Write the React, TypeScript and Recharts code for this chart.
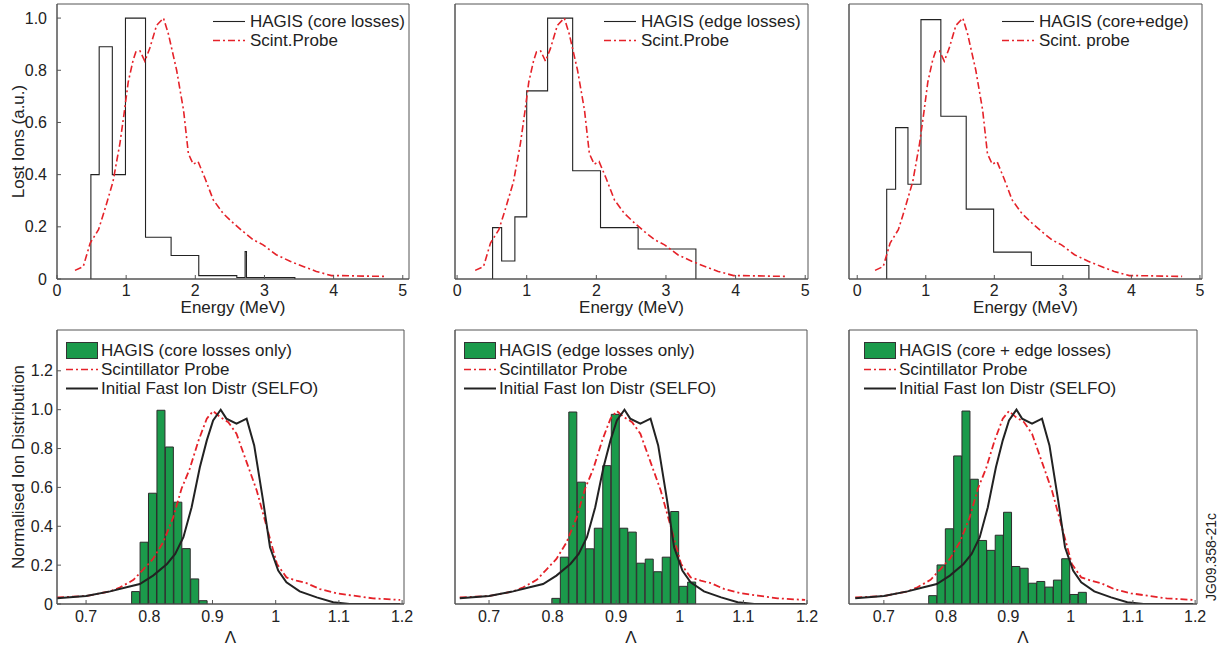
import { Bar, ComposedChart, Legend, Line, ReferenceArea, XAxis, YAxis } from "recharts";

const FONT = '"Liberation Sans", Arial, Helvetica, sans-serif';
const RED = "#e52229";
const GREEN = "#1b9a4b";
const FRAME = "#555";
const INK = "#222";
const DASH = "7 3 2 3";

// ---- top row: energy spectra of lost ions ----
const energyTicks = [0, 1, 2, 3, 4, 5];
const lossTicks = [0, 0.2, 0.4, 0.6, 0.8, 1.0];

const probeEnergy = [0.26, 0.38, 0.48, 0.6, 0.69, 0.81, 0.91, 0.97, 1.03, 1.1, 1.14, 1.2, 1.27, 1.34, 1.44, 1.54, 1.61, 1.73, 1.83, 1.9, 1.97, 2.04, 2.14, 2.26, 2.4, 2.55, 2.69, 2.84, 2.98, 3.17, 3.37, 3.56, 3.75, 3.97, 4.09, 4.47, 4.74];
const probeSignal = [0.033, 0.048, 0.138, 0.189, 0.265, 0.373, 0.52, 0.634, 0.755, 0.838, 0.87, 0.874, 0.835, 0.883, 0.972, 1.0, 0.94, 0.8, 0.647, 0.48, 0.44, 0.45, 0.386, 0.303, 0.252, 0.214, 0.182, 0.15, 0.131, 0.093, 0.068, 0.048, 0.029, 0.013, 0.013, 0.011, 0.01];

// HAGIS histograms: bin edges and the level of each bin
const coreEdges = [0.49, 0.61, 0.8, 0.99, 1.28, 1.65, 2.05, 2.6, 2.72, 2.74, 3.44];
const coreLevels = [0.4, 0.89, 0.4, 1.0, 0.16, 0.09, 0.013, 0.006, 0.105, 0.006];
const edgeEdges = [0.51, 0.64, 0.83, 1.0, 1.3, 1.66, 2.06, 2.6, 3.43];
const edgeLevels = [0.197, 0.069, 0.238, 0.721, 1.0, 0.415, 0.197, 0.115];
const bothEdges = [0.43, 0.56, 0.74, 0.93, 1.22, 1.59, 1.99, 2.54, 3.38];
const bothLevels = [0.344, 0.58, 0.363, 0.994, 0.624, 0.268, 0.103, 0.052];

// ---- bottom row: distributions in Lambda ----
const lambdaTicks = [0.7, 0.8, 0.9, 1.0, 1.1, 1.2];
const distTicks = [0, 0.2, 0.4, 0.6, 0.8, 1.0, 1.2];

const lambdaBins = [0.7787, 0.7921, 0.8054, 0.8188, 0.8321, 0.8455, 0.8588, 0.8722, 0.8855, 0.8989, 0.9122, 0.9256, 0.9389, 0.9523, 0.9656, 0.979, 0.9923, 1.0057, 1.019];
const hagisCore = [0.064, 0.318, 0.57, 0.997, 0.808, 0.524, 0.285, 0.129, 0.017, 0, 0, 0, 0, 0, 0, 0, 0, 0, 0];
const hagisEdge = [0, 0, 0.029, 0.241, 0.988, 0.627, 0.284, 0.39, 0.712, 0.976, 0.39, 0.37, 0.21, 0.231, 0.166, 0.241, 0.476, 0.091, 0.113];
const hagisBoth = [0.043, 0.201, 0.387, 0.762, 0.993, 0.642, 0.327, 0.276, 0.354, 0.472, 0.193, 0.184, 0.107, 0.116, 0.087, 0.123, 0.233, 0.049, 0.06];

const probeLambda = [0.654, 0.7, 0.738, 0.754, 0.775, 0.791, 0.806, 0.822, 0.838, 0.851, 0.864, 0.878, 0.891, 0.901, 0.912, 0.925, 0.938, 0.954, 0.97, 0.986, 1.002, 1.017, 1.033, 1.049, 1.07, 1.097, 1.123, 1.154, 1.197];
const probeDist = [0.034, 0.041, 0.065, 0.086, 0.124, 0.18, 0.232, 0.318, 0.447, 0.593, 0.696, 0.842, 0.954, 0.993, 0.962, 0.936, 0.876, 0.73, 0.584, 0.395, 0.206, 0.137, 0.12, 0.107, 0.077, 0.055, 0.043, 0.029, 0.021];
const selfoLambda = [0.654, 0.7, 0.738, 0.764, 0.785, 0.806, 0.828, 0.841, 0.854, 0.867, 0.88, 0.891, 0.901, 0.913, 0.922, 0.938, 0.954, 0.966, 0.98, 0.991, 1.004, 1.017, 1.038, 1.065, 1.091, 1.117, 1.197];
const selfoDist = [0.029, 0.041, 0.065, 0.086, 0.103, 0.146, 0.206, 0.258, 0.344, 0.498, 0.704, 0.842, 0.945, 1.0, 0.954, 0.928, 0.954, 0.816, 0.533, 0.292, 0.172, 0.112, 0.065, 0.034, 0.009, 0, 0];

function stepPoints(edges: number[], levels: number[]) {
  const pts = [{ x: edges[0], y: 0 }];
  levels.forEach((l, i) => pts.push({ x: edges[i], y: l }));
  pts.push({ x: edges[edges.length - 1], y: 0 });
  return pts;
}

const zip = (xs: number[], ys: number[]) => xs.map((x, i) => ({ x, y: ys[i] }));

type Item = { kind: "rect" | "solid" | "dash"; text: string };

function LegendBox({ items, gap, thick }: { items: Item[]; gap: number; thick: number }) {
  return (
    <div style={{ fontFamily: FONT, fontSize: 17, color: INK, lineHeight: "19px" }}>
      {items.map((it) => (
        <div key={it.text} style={{ display: "flex", alignItems: "center", height: 19 }}>
          <svg width={32} height={19} style={{ flexShrink: 0 }}>
            {it.kind === "rect" && <rect x={0.5} y={1.5} width={31} height={16} fill={GREEN} stroke="#333" />}
            {it.kind === "solid" && <line x1={0} x2={32} y1={9.5} y2={9.5} stroke={INK} strokeWidth={thick} />}
            {it.kind === "dash" && <line x1={0} x2={32} y1={9.5} y2={9.5} stroke={RED} strokeWidth={1.6} strokeDasharray={DASH} />}
          </svg>
          <span style={{ marginLeft: gap, whiteSpace: "nowrap" }}>{it.text}</span>
        </div>
      ))}
    </div>
  );
}

const tickStyle = { fontSize: 16, fill: INK, fontFamily: FONT };
const oneDec = (v: number) => (v === 0 ? "0" : v.toFixed(1));

type EnergyProps = {
  left: number; width: number; yWidth: number; right: number; xDomain: [number, number];
  edges: number[]; levels: number[]; hagis: string; probe: string; legendLeft: number; showY: boolean;
};

const LOSS_MAX = 1.054;
const DIST_MAX = 1.41;

function EnergyPanel(p: EnergyProps) {
  return (
    <div style={{ position: "absolute", left: p.left, top: 0 }}>
      <ComposedChart width={p.width} height={320} margin={{ top: 4, right: p.right, bottom: 0, left: 0 }}>
        <XAxis dataKey="x" type="number" domain={p.xDomain} allowDataOverflow ticks={energyTicks} interval={0}
          height={41} tickSize={-4} tickMargin={10} tick={tickStyle} stroke={FRAME}
          label={{ value: "Energy (MeV)", position: "insideBottom", offset: 7, fontSize: 17, fill: INK, fontFamily: FONT }} />
        <YAxis type="number" domain={[0, LOSS_MAX]} allowDataOverflow ticks={lossTicks} interval={0} width={p.yWidth}
          tickSize={-4} tickMargin={14} tick={p.showY ? tickStyle : false} tickFormatter={oneDec} stroke={FRAME}
          label={p.showY ? { value: "Lost Ions (a.u.)", angle: -90, position: "insideLeft", offset: 18, style: { textAnchor: "middle" }, fontSize: 17, fill: INK, fontFamily: FONT } : undefined} />
        <ReferenceArea x1={p.xDomain[0]} x2={p.xDomain[1]} y1={0} y2={LOSS_MAX} fill="none" stroke={FRAME} strokeWidth={1} ifOverflow="visible" />
        <Line data={stepPoints(p.edges, p.levels)} dataKey="y" type="stepAfter" stroke={INK} strokeWidth={1.1}
          dot={false} activeDot={false} isAnimationActive={false} />
        <Line data={zip(probeEnergy, probeSignal)} dataKey="y" type="linear" stroke={RED} strokeWidth={1.6}
          strokeDasharray={DASH} dot={false} activeDot={false} isAnimationActive={false} />
        <Legend verticalAlign="middle" align="center" wrapperStyle={{ left: p.legendLeft, top: 12, width: "auto" }}
          content={() => <LegendBox gap={5} thick={1.1} items={[{ kind: "solid", text: p.hagis }, { kind: "dash", text: p.probe }]} />} />
      </ComposedChart>
    </div>
  );
}

type LambdaProps = {
  left: number; width: number; yWidth: number; right: number; xDomain: [number, number];
  hist: number[]; hagis: string; legendLeft: number; showY: boolean;
};

function LambdaPanel(p: LambdaProps) {
  const bins = lambdaBins.map((x, i) => ({ x, h: p.hist[i] }));
  return (
    <div style={{ position: "absolute", left: p.left, top: 320 }}>
      <ComposedChart width={p.width} height={331} data={bins} barCategoryGap={0} barGap={0}
        margin={{ top: 10, right: p.right, bottom: 0, left: 0 }}>
        <XAxis dataKey="x" type="number" domain={p.xDomain} allowDataOverflow ticks={lambdaTicks} interval={0}
          height={47} tickSize={-4} tickMargin={11} tick={tickStyle} stroke={FRAME}
          tickFormatter={(v: number) => (v === 1 ? "1" : v.toFixed(1))}
          label={{ value: "Λ", position: "insideBottom", offset: 8, fontSize: 17, fill: INK, fontFamily: FONT }} />
        <XAxis xAxisId="line" dataKey="x" type="number" domain={p.xDomain} allowDataOverflow hide />
        <YAxis type="number" domain={[0, DIST_MAX]} allowDataOverflow ticks={distTicks} interval={0} width={p.yWidth}
          tickSize={-4} tickMargin={8} tick={p.showY ? tickStyle : false} tickFormatter={oneDec} stroke={FRAME}
          label={p.showY ? { value: "Normalised Ion Distribution", angle: -90, position: "insideLeft", offset: 18, style: { textAnchor: "middle" }, fontSize: 17, fill: INK, fontFamily: FONT } : undefined} />
        <Bar dataKey="h" fill={GREEN} stroke="#2c2c2c" strokeWidth={1} isAnimationActive={false} />
        <Line xAxisId="line" data={zip(probeLambda, probeDist)} dataKey="y" type="linear" stroke={RED} strokeWidth={1.8}
          strokeDasharray={DASH} dot={false} activeDot={false} isAnimationActive={false} />
        <Line xAxisId="line" data={zip(selfoLambda, selfoDist)} dataKey="y" type="linear" stroke={INK} strokeWidth={2}
          dot={false} activeDot={false} isAnimationActive={false} />
        <ReferenceArea x1={p.xDomain[0]} x2={p.xDomain[1]} y1={0} y2={DIST_MAX} fill="none" stroke={FRAME} strokeWidth={1} ifOverflow="visible" />
        <Legend verticalAlign="middle" align="center" wrapperStyle={{ left: p.legendLeft, top: 21, width: "auto" }}
          content={() => (
            <LegendBox gap={3} thick={2} items={[
              { kind: "rect", text: p.hagis },
              { kind: "dash", text: "Scintillator Probe" },
              { kind: "solid", text: "Initial Fast Ion Distr (SELFO)" },
            ]} />
          )} />
      </ComposedChart>
    </div>
  );
}

export default function App() {
  return (
    <div style={{ position: "absolute", left: 0, top: 0, width: 1223, height: 651, background: "#fff", fontFamily: FONT, overflow: "hidden" }}>
      <EnergyPanel left={0} width={420} yWidth={57} right={11} xDomain={[0, 5.09]} edges={coreEdges} levels={coreLevels}
        hagis="HAGIS (core losses)" probe="Scint.Probe" legendLeft={213} showY />
      <EnergyPanel left={420} width={400} yWidth={35} right={12} xDomain={[-0.03, 5.04]} edges={edgeEdges} levels={edgeLevels}
        hagis="HAGIS (edge losses)" probe="Scint.Probe" legendLeft={184} showY={false} />
      <EnergyPanel left={815} width={408} yWidth={34} right={21} xDomain={[-0.12, 5.03]} edges={bothEdges} levels={bothLevels}
        hagis="HAGIS (core+edge)" probe="Scint. probe" legendLeft={187} showY={false} />
      <LambdaPanel left={0} width={420} yWidth={57} right={16} xDomain={[0.654, 1.203]} hist={hagisCore}
        hagis="HAGIS (core losses only)" legendLeft={66} showY />
      <LambdaPanel left={420} width={400} yWidth={35} right={13} xDomain={[0.6465, 1.2]} hist={hagisEdge}
        hagis="HAGIS (edge losses only)" legendLeft={44} showY={false} />
      <LambdaPanel left={815} width={408} yWidth={34} right={26} xDomain={[0.644, 1.203]} hist={hagisBoth}
        hagis="HAGIS (core + edge losses)" legendLeft={49} showY={false} />
      <div style={{ position: "absolute", left: 1211, top: 557, transform: "translate(-50%, -50%) rotate(-90deg)", fontSize: 14, color: INK, whiteSpace: "nowrap" }}>
        JG09.358-21c
      </div>
    </div>
  );
}
